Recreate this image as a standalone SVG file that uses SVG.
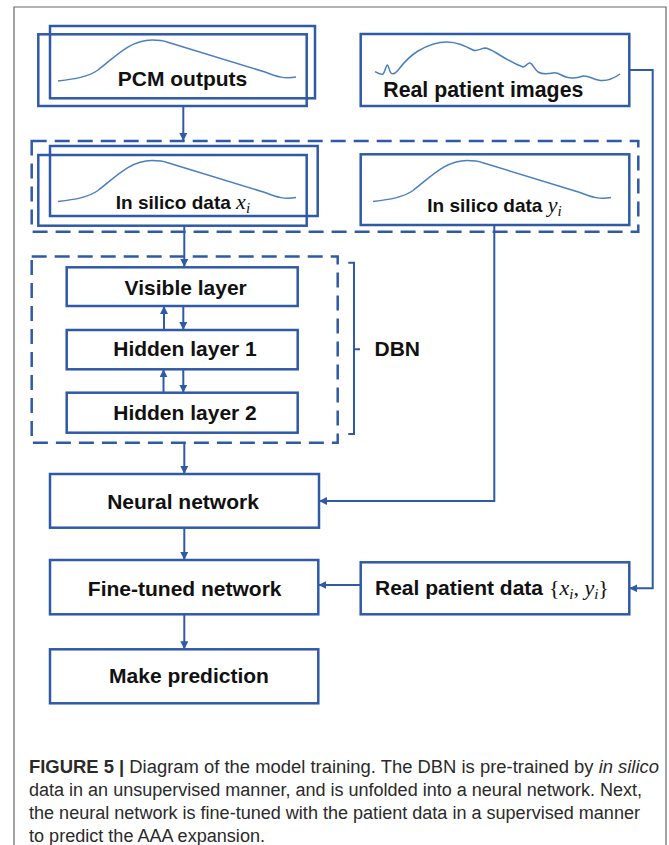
<svg xmlns="http://www.w3.org/2000/svg" xmlns:xlink="http://www.w3.org/1999/xlink" width="669" height="845" viewBox="0 0 669 845">
<style>
.box{fill:#fff;stroke:#2F5AA8;stroke-width:2.5}
.boxn{fill:none;stroke:#2F5AA8;stroke-width:2.5}
.dash{fill:none;stroke:#2F5AA8;stroke-width:2.5;stroke-dasharray:15 8}
.curve{fill:none;stroke:#4A7FC1;stroke-width:1.5}
.conn{fill:none;stroke:#2F5AA8;stroke-width:2}
.lbl{font-family:"Liberation Sans",Arial,sans-serif;font-weight:bold;font-size:21px;fill:#111;text-anchor:middle}
.math{font-family:"Liberation Serif","Times New Roman",serif;font-style:italic;font-weight:normal}
.cap{font-family:"Liberation Sans",Arial,sans-serif;font-size:18px;fill:#2a2a2a}
</style>
<defs>
<marker id="ah" viewBox="0 0 10 10" refX="10" refY="5" markerWidth="4" markerHeight="4" orient="auto" markerUnits="strokeWidth">
<path d="M0,0 L10,5 L0,10 z" fill="#2F5AA8"/>
</marker>
<path id="bump" d="M58,81 C75,79 88,77 98,70 C115,57 130,40 152,40 C158,40 162,40 167,42 L265,72 C277,77 285,79 296,77"/>
</defs>

<path d="M14,845 V7 H666 V845" fill="none" stroke="#666" stroke-width="1.2"/>

<g id="pcm-outputs">
<rect class="box" x="50" y="26" width="265" height="72.3"/>
<rect class="boxn" x="38.3" y="34.3" width="268.4" height="71.7"/>
<use href="#bump" class="curve"/>
<text class="lbl" x="182.5" y="86">PCM outputs</text>
</g>

<g id="real-patient-images">
<rect class="box" x="360.7" y="34" width="268.6" height="72"/>
<path class="curve" d="M375,71.7 C379,74 381,75 383,74 C385,72 386,65 387.5,65 C389,66 389,71 391,73 C393,75 396,73 399,69 C405,61 410,56 418,51 C428,45 437,42 447,42 C457,42 465,46 473,50 C477,52 481,48 486,48 C490,49 493,51 498,54 C506,59 515,64 523,67 C527,66 528,62 530,63 C533,64 534,69 538,72 C543,75 548,74 553,73 C558,72 560,75 566,77 C572,79 578,78 583,76 C588,75 592,79 598,80 C606,82 613,79 620,74"/>
<text class="lbl" x="383.3" y="97" style="text-anchor:start;font-size:21.3px">Real patient images</text>
</g>

<g id="in-silico-group">
<rect class="dash" x="31.7" y="141" width="606.6" height="90.7"/>
</g>

<g id="in-silico-x">
<rect class="box" x="50" y="146" width="267.7" height="70"/>
<rect class="boxn" x="38.3" y="155" width="268.4" height="70.7"/>
<use href="#bump" class="curve" transform="translate(0,120.5)"/>
<text class="lbl" x="182.9" y="209.3" style="font-size:19px">In silico data <tspan class="math" font-size="22">x</tspan><tspan class="math" font-size="15" dy="4">i</tspan></text>
</g>

<g id="in-silico-y">
<rect class="box" x="360.7" y="154.3" width="268.6" height="70.7"/>
<use href="#bump" class="curve" transform="translate(315,120.5)"/>
<text class="lbl" x="494.5" y="211.5" style="font-size:19px">In silico data <tspan class="math" font-size="22">y</tspan><tspan class="math" font-size="15" dy="4">i</tspan></text>
</g>

<g id="dbn">
<rect class="dash" x="31.7" y="256.5" width="306" height="186.2"/>
<path class="conn" d="M348.3,262.7 H354 V434 H348.3 M354,349.3 H360" stroke-width="2.2"/>
<text class="lbl" x="374.5" y="356" style="text-anchor:start">DBN</text>
</g>

<g id="visible-layer">
<rect class="box" x="66.7" y="267.3" width="231" height="38.7"/>
<text class="lbl" x="185.7" y="295">Visible layer</text>
</g>

<g id="hidden-layer-1">
<rect class="box" x="66.7" y="330" width="231" height="39.3"/>
<text class="lbl" x="185" y="356.3">Hidden layer 1</text>
</g>

<g id="hidden-layer-2">
<rect class="box" x="66.7" y="392.7" width="231" height="40"/>
<text class="lbl" x="185" y="420">Hidden layer 2</text>
</g>

<g id="neural-network">
<rect class="box" x="50" y="474" width="269" height="53.7"/>
<text class="lbl" x="183" y="509.3">Neural network</text>
</g>

<g id="fine-tuned-network">
<rect class="box" x="50" y="560" width="268.3" height="54.3"/>
<text class="lbl" x="184.7" y="596">Fine-tuned network</text>
</g>

<g id="make-prediction">
<rect class="box" x="50" y="649.3" width="268.3" height="54"/>
<text class="lbl" x="189" y="683.3">Make prediction</text>
</g>

<g id="real-patient-data">
<rect class="box" x="360.7" y="562.3" width="268.6" height="52"/>
<text class="lbl" x="375" y="595" style="text-anchor:start">Real patient data <tspan class="math" style="font-style:normal" font-size="22">{</tspan><tspan class="math" font-size="22">x</tspan><tspan class="math" font-size="15" dy="4">i</tspan><tspan class="math" style="font-style:normal" font-size="22" dy="-4">, </tspan><tspan class="math" font-size="22">y</tspan><tspan class="math" font-size="15" dy="4">i</tspan><tspan class="math" style="font-style:normal" font-size="22" dy="-4">}</tspan></text>
</g>

<g id="connectors">
<path class="conn" marker-end="url(#ah)" d="M183.3,106 V141"/>
<path class="conn" marker-end="url(#ah)" d="M184.3,225.7 V267"/>
<path class="conn" marker-end="url(#ah)" d="M183.3,306 V330"/>
<path class="conn" marker-end="url(#ah)" d="M164,330 V306"/>
<path class="conn" marker-end="url(#ah)" d="M163.5,392.7 V369.3"/>
<path class="conn" marker-end="url(#ah)" d="M183.3,369.3 V392.7"/>
<path class="conn" marker-end="url(#ah)" d="M184.3,442.7 V474"/>
<path class="conn" marker-end="url(#ah)" d="M494.3,225 V501 H319"/>
<path class="conn" marker-end="url(#ah)" d="M184.3,527.7 V560"/>
<path class="conn" marker-end="url(#ah)" d="M360.7,585 H318.3"/>
<path class="conn" marker-end="url(#ah)" d="M629.3,70 H652.7 V588.3 H629.3"/>
<path class="conn" marker-end="url(#ah)" d="M184.3,614.3 V649.3"/>
</g>

<g id="caption">
<text class="cap" x="29" y="773" textLength="630" lengthAdjust="spacingAndGlyphs"><tspan font-weight="bold">FIGURE 5 |</tspan> Diagram of the model training. The DBN is pre-trained by <tspan font-style="italic">in silico</tspan></text>
<text class="cap" x="29" y="796" textLength="613" lengthAdjust="spacingAndGlyphs">data in an unsupervised manner, and is unfolded into a neural network. Next,</text>
<text class="cap" x="29" y="819" textLength="611" lengthAdjust="spacingAndGlyphs">the neural network is fine-tuned with the patient data in a supervised manner</text>
<text class="cap" x="29" y="842" textLength="236" lengthAdjust="spacingAndGlyphs">to predict the AAA expansion.</text>
</g>
</svg>
